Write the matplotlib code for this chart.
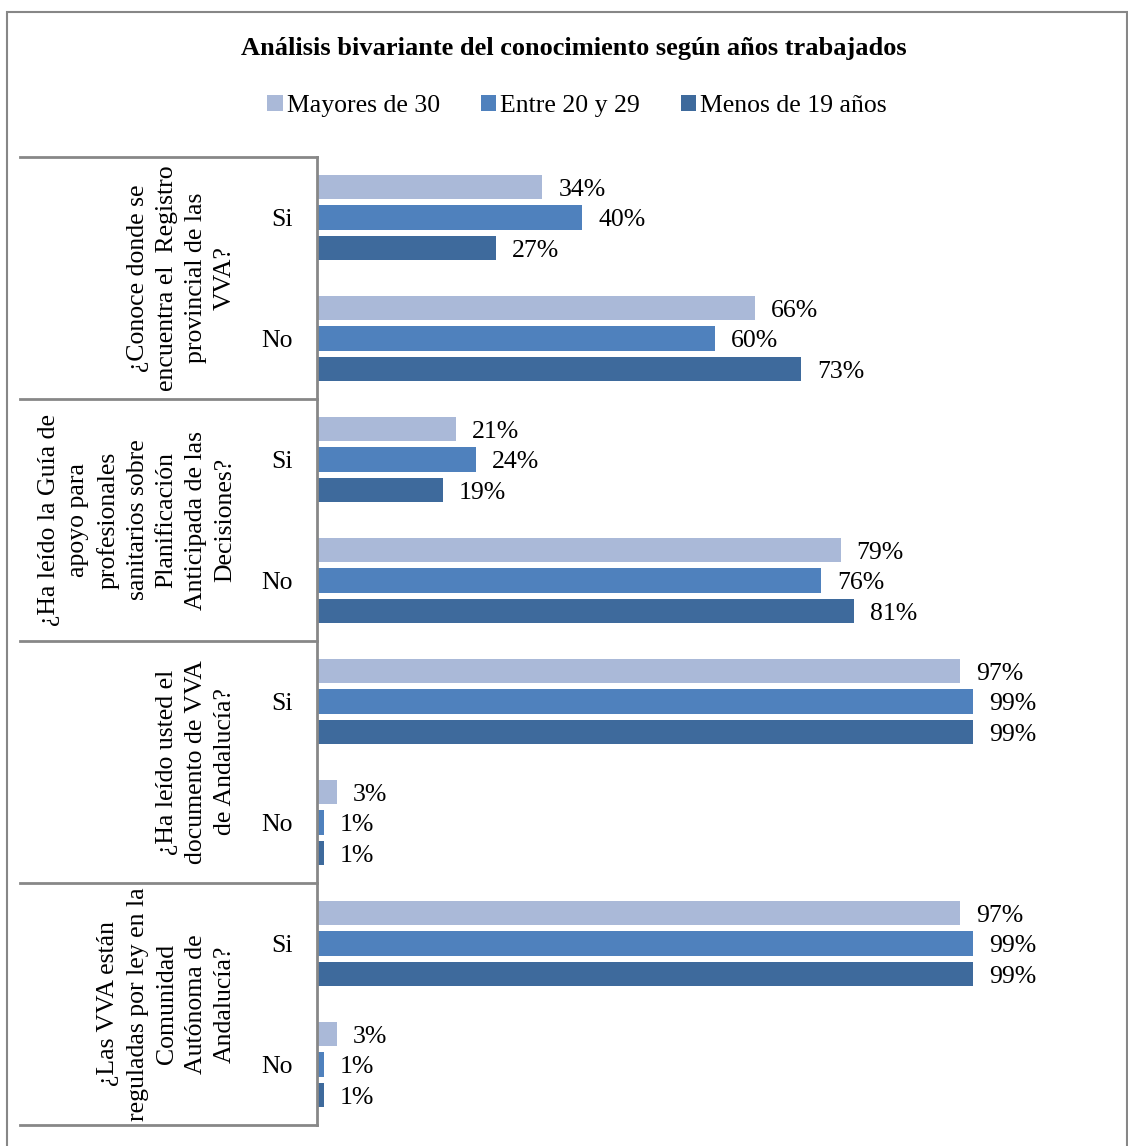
import numpy as np
import matplotlib
matplotlib.use("Agg")
import matplotlib.pyplot as plt
from matplotlib.patches import Rectangle
from matplotlib.lines import Line2D

plt.rcParams['font.family'] = ['Liberation Serif', 'DejaVu Serif']

preguntas = [
    "¿Conoce donde se\nencuentra el  Registro\nprovincial de las\nVVA?",
    "¿Ha leído la Guía de\napoyo para\nprofesionales\nsanitarios sobre\nPlanificación\nAnticipada de las\nDecisiones?",
    "¿Ha leído usted el\ndocumento de VVA\nde Andalucía?",
    "¿Las VVA están\nreguladas por ley en la\nComunidad\nAutónoma de\nAndalucía?",
]
respuestas = ["Si", "No"]
series = ["Mayores de 30", "Entre 20 y 29", "Menos de 19 años"]
mayores = [34, 66, 21, 79, 97, 3, 97, 3]
entre = [40, 60, 24, 76, 99, 1, 99, 1]
menos = [27, 73, 19, 81, 99, 1, 99, 1]
colores = ["#AAB9D8", "#4F81BD", "#3E6A9C"]

W, H = 1128, 1146
fig = plt.figure(figsize=(W / 100, H / 100), dpi=100)

# plot area in pixels
x0, x1 = 317, 980
y0, y1 = 157, 1125
ax = fig.add_axes([x0 / W, 1 - y1 / H, (x1 - x0) / W, (y1 - y0) / H])

n = len(mayores)
y = np.arange(n)
h = 0.2
step = 0.25
for k, (vals, col) in enumerate(zip([mayores, entre, menos], colores)):
    pos = y + (k - 1) * step
    ax.barh(pos, vals, height=h, color=col, label=series[k])
    for p, v in zip(pos, vals):
        ax.annotate(f"{v}%", (v, p), xytext=(11.5, -2), textcoords="offset points",
                    ha="left", va="center", fontsize=18.5)

ax.set_xlim(0, 100)
ax.set_ylim(n - 0.5, -0.5)
ax.set_xticks([])
ax.set_yticks([])
for s in ["top", "right", "bottom"]:
    ax.spines[s].set_visible(False)
ax.spines["left"].set_color("#878787")
ax.spines["left"].set_linewidth(2)

# Si / No labels and group labels
tr = ax.get_yaxis_transform()
lx = (293 - x0) / (x1 - x0)
for i in range(n):
    ax.annotate(respuestas[i % 2], (lx, i), xycoords=tr, xytext=(0, -2),
                textcoords="offset points", ha="right", va="center", fontsize=18.5)

gx = (236 - x0) / (x1 - x0)
for g, q in enumerate(preguntas):
    ax.text(gx, 2 * g + 0.5, q, transform=tr, rotation=90, ha="right", va="center",
            multialignment="center", fontsize=18.5, linespacing=1.42)

# divider lines of the category table
lx0 = (20 - x0) / (x1 - x0)
for b in np.arange(-0.5, n, 2):
    ax.add_line(Line2D([lx0, 0], [b, b], transform=tr, color="#878787", lw=2,
                       clip_on=False))

# chart border
fig.patches.append(Rectangle((7 / W, -0.01), (1127 - 7) / W, 1.01 - 12 / H,
                             transform=fig.transFigure, fill=False,
                             edgecolor="#878787", lw=1.5))

fig.text(574 / W, 1 - 49 / H, "Análisis bivariante del conocimiento según años trabajados",
         ha="center", va="center", fontsize=19, fontweight="bold")

fig.legend(loc="center", bbox_to_anchor=(577 / W, 1 - 106 / H), ncol=3, frameon=False,
           fontsize=18.5, handlelength=0.6, handleheight=0.6, handletextpad=0.15,
           columnspacing=1.6)

fig.savefig("out.png", dpi=100)
